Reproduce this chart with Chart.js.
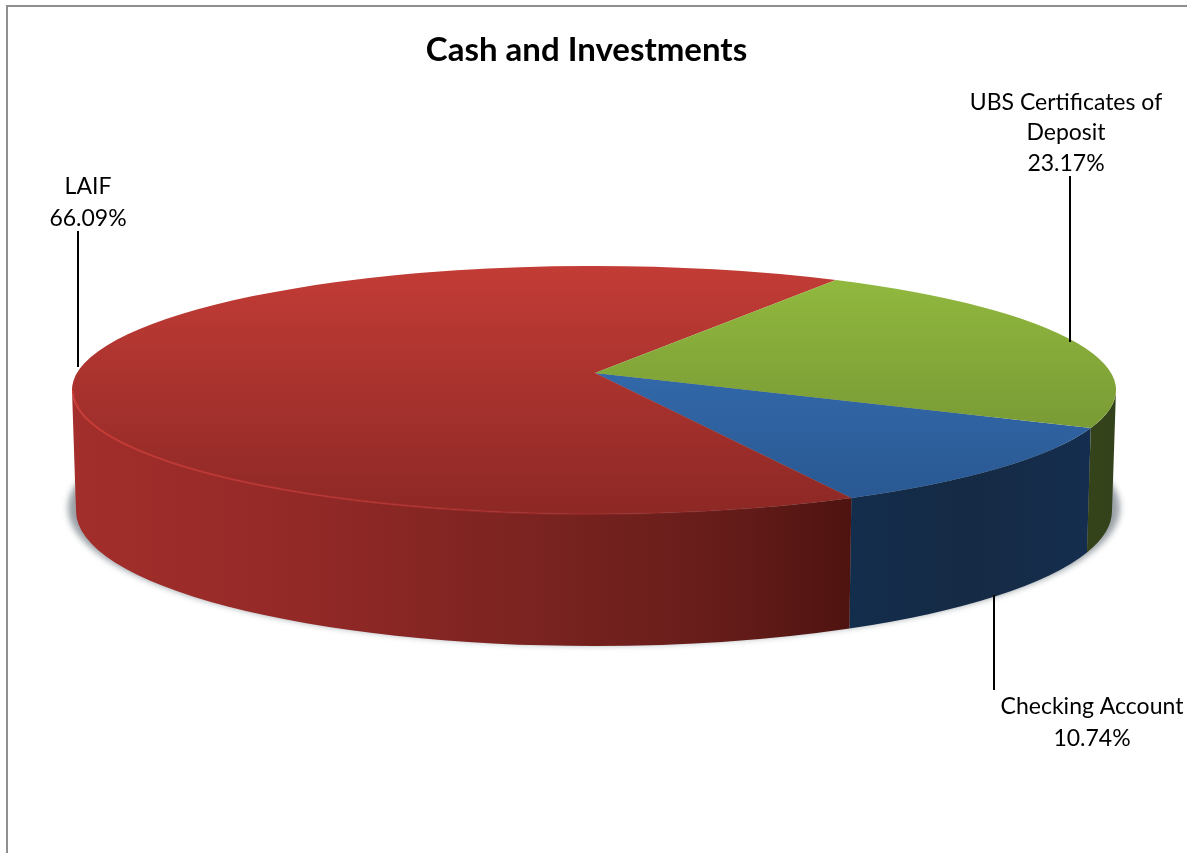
<!DOCTYPE html>
<html>
<head>
<meta charset="utf-8">
<title>Cash and Investments</title>
<script src="https://cdn.jsdelivr.net/npm/chart.js" type="text/javascript"></script>
<style>
  html, body { margin: 0; padding: 0; background: #fff; overflow: hidden; }
  #frame { position: absolute; left: 6px; top: 5px; width: 1181px; height: 847px;
           border-left: 2px solid #8f8f8f; border-top: 2px solid #8f8f8f; }
  canvas { position: absolute; left: 0; top: 0; }
</style>
</head>
<body>
<div id="frame"></div>
<canvas id="pie" width="1187" height="853"></canvas>
<script>
const chartTitle = "Cash and Investments";
const categories = ["Checking Account", "LAIF", "UBS Certificates of Deposit"];
const shares = [10.74, 66.09, 23.17];
const sliceColors = ["#4F81BD", "#C0504D", "#9BBB59"];

// where the callouts go: text lines (centre x, y) and the leader line
const callouts = [
  { lines: ["Checking Account", "10.74%"], x: 1092, y: [707, 739], leader: [994, 595, 690] },
  { lines: ["LAIF", "66.09%"], x: 88, y: [187, 219], leader: [78, 231, 367] },
  { lines: ["UBS Certificates of", "Deposit", "23.17%"], x: 1066, y: [103, 133, 164], leader: [1070, 176, 342] },
];

// 3d look of the pie
const apex = { x: 595, y: 373 };
const topFace = { x: 594, y: 390, rx: 522, ry: 124 };
const base = { x: 594, y: 511, rx: 518, ry: 135 };
const reachUp = 112, reachDown = 140;

const faceStops = [
  [[0, "#3a76bd"], [1, "#28568f"]],
  [[0, "#c33c36"], [1, "#8d2825"]],
  [[0, "#93bb3f"], [1, "#6c8a30"]],
];
const wallStops = [
  [[0, "#132d4c"], [0.5, "#152a44"], [1, "#152e4f"]],
  [[0, "#a32e2b"], [0.3, "#922927"], [0.6, "#7a2320"], [0.85, "#641c19"], [1, "#4e1310"]],
  [[0, "#34431a"], [1, "#33421a"]],
];

// pie angle -> parameter on the tilted top ellipse (the apex sits off centre)
function rimParam(theta) {
  const s = Math.sin(theta);
  const dx = Math.cos(theta) * topFace.rx;
  const dy = s * (s < 0 ? reachUp : reachDown);
  const offX = apex.x - topFace.x, offY = apex.y - topFace.y;
  const rx2 = topFace.rx * topFace.rx, ry2 = topFace.ry * topFace.ry;
  const a = (dx * dx) / rx2 + (dy * dy) / ry2;
  const b = (2 * dx * offX) / rx2 + (2 * dy * offY) / ry2;
  const c = (offX * offX) / rx2 + (offY * offY) / ry2 - 1;
  const t = (-b + Math.sqrt(b * b - 4 * a * c)) / (2 * a);
  return Math.atan2((apex.y + t * dy - topFace.y) / topFace.ry, (apex.x + t * dx - topFace.x) / topFace.rx);
}

function gradient(ctx, x0, y0, x1, y1, stops) {
  const g = ctx.createLinearGradient(x0, y0, x1, y1);
  stops.forEach(s => g.addColorStop(s[0], s[1]));
  return g;
}

// the visible front part of a slice, as ranges of ellipse parameter within 0..PI
function frontRange(start, end) {
  const two = Math.PI * 2;
  let a = ((start % two) + two) % two;
  let b = a + (((end - start) % two) + two) % two;
  const ranges = [];
  [[0, Math.PI], [two, two + Math.PI]].forEach(w => {
    const lo = Math.max(a, w[0]), hi = Math.min(b, w[1]);
    if (hi > lo) ranges.push([lo - w[0], hi - w[0]]);
  });
  return ranges;
}

const pie3d = {
  id: "pie3d",
  beforeDatasetsDraw(chart) {
    const ctx = chart.ctx;
    const arcs = chart.getDatasetMeta(0).data;

    // soft shadow below the disc
    ctx.save();
    ctx.filter = "blur(3px)";
    ctx.fillStyle = "#9aa1a6";
    ctx.beginPath();
    ctx.ellipse(base.x, base.y - 3, base.rx + 8, base.ry + 2, 0, 0, Math.PI * 2);
    ctx.fill();
    ctx.restore();

    // walls first
    arcs.forEach((arc, i) => {
      const p1 = rimParam(arc.startAngle), p2 = rimParam(arc.endAngle);
      frontRange(p1, p2).forEach(r => {
        ctx.beginPath();
        ctx.ellipse(topFace.x, topFace.y, topFace.rx, topFace.ry, 0, r[0], r[1]);
        ctx.ellipse(base.x, base.y, base.rx, base.ry, 0, r[1], r[0], true);
        ctx.closePath();
        const x0 = topFace.x + topFace.rx * Math.cos(r[1]);
        const x1 = topFace.x + topFace.rx * Math.cos(r[0]);
        ctx.fillStyle = gradient(ctx, x0, 0, x1, 0, wallStops[i]);
        ctx.fill();
      });
    });

    // top face
    arcs.forEach((arc, i) => {
      const p1 = rimParam(arc.startAngle), p2 = rimParam(arc.endAngle);
      ctx.beginPath();
      ctx.moveTo(apex.x, apex.y);
      ctx.ellipse(topFace.x, topFace.y, topFace.rx, topFace.ry, 0, p1, p2);
      ctx.closePath();
      ctx.fillStyle = gradient(ctx, 0, topFace.y - topFace.ry, 0, topFace.y + topFace.ry, faceStops[i]);
      ctx.fill();
    });

    // lighter bevel on the red rim, fading to the right
    const laif = arcs[1];
    frontRange(rimParam(laif.startAngle), rimParam(laif.endAngle)).forEach(r => {
      ctx.beginPath();
      ctx.ellipse(topFace.x, topFace.y, topFace.rx - 1, topFace.ry, 0, r[0], r[1]);
      ctx.lineWidth = 2;
      ctx.strokeStyle = gradient(ctx, 74, 0, 850, 0,
        [[0, "rgba(205,60,55,0.85)"], [0.5, "rgba(190,50,48,0.55)"], [1, "rgba(150,40,36,0)"]]);
      ctx.stroke();
    });
    return false; // arcs are painted above, skip the flat pie
  },
  afterDraw(chart) {
    const ctx = chart.ctx;
    ctx.save();
    ctx.strokeStyle = "#000";
    ctx.lineWidth = 2;
    ctx.fillStyle = "#000";
    ctx.font = "23px Lato";
    ctx.textAlign = "center";
    ctx.textBaseline = "middle";
    callouts.forEach(c => {
      ctx.beginPath();
      ctx.moveTo(c.leader[0], c.leader[1]);
      ctx.lineTo(c.leader[0], c.leader[2]);
      ctx.stroke();
      c.lines.forEach((t, k) => ctx.fillText(t, c.x, c.y[k]));
    });
    ctx.restore();
  },
};

new Chart(document.getElementById("pie"), {
  type: "pie",
  data: {
    labels: categories,
    datasets: [{ data: shares, backgroundColor: sliceColors, borderWidth: 0 }],
  },
  options: {
    responsive: false,
    animation: false,
    rotation: 112.5,
    layout: { padding: { right: 14 } },
    plugins: {
      legend: { display: false },
      tooltip: { enabled: false },
      title: {
        display: true,
        text: chartTitle,
        color: "#000",
        font: { family: "Lato", size: 33, weight: "bold" },
        padding: { top: 31, bottom: 10 },
      },
    },
  },
  plugins: [pie3d],
});
</script>
</body>
</html>
